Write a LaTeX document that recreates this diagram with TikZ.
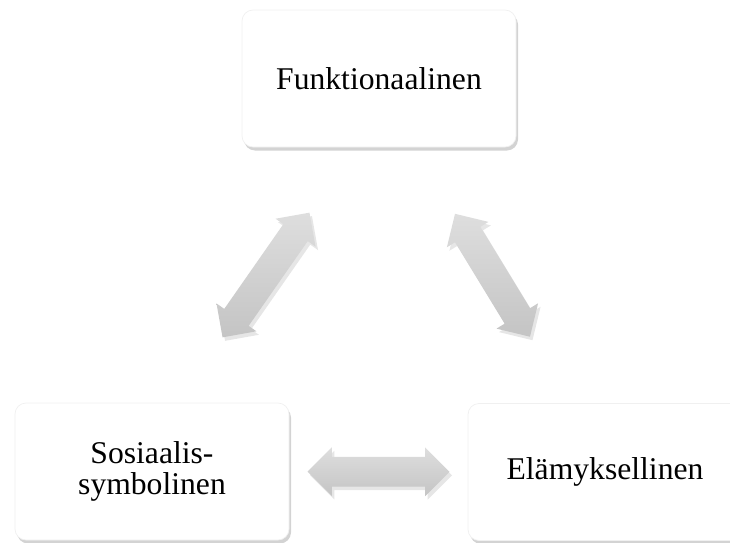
\documentclass[tikz,border=0pt]{standalone}
\usepackage{fontspec}
\setmainfont{Liberation Serif}
\usetikzlibrary{shapes.arrows,shadows}
\definecolor{linklight}{HTML}{DEDEDE}
\definecolor{linkdark}{HTML}{C4C4C4}

\begin{document}
\begin{tikzpicture}[
    box/.style={draw=gray!12, fill=white, rounded corners=0.22cm,
        minimum width=5.48cm, minimum height=2.74cm, align=center,
        font=\fontsize{18}{18}\selectfont,
        drop shadow={shadow xshift=0.04cm, shadow yshift=-0.07cm, opacity=0.35}},
    link/.style={double arrow, sloped, draw=none, inner xsep=0pt, inner ysep=0.29cm,
        minimum width=0.96cm, double arrow head extend=0.19cm,
        top color=linklight, bottom color=linkdark,
        drop shadow={shadow xshift=0.05cm, shadow yshift=-0.07cm, opacity=0.2}}
]
\useasboundingbox (0,0) rectangle (14.6,10.84);
% Boxes
\node[box] (func) at (7.58,9.27) {Funktionaalinen};
\node[box] (sos) at (3.04,1.41) {Sosiaalis-\\symbolinen};
\node[box] (elam) at (12.10,1.40) {Elämyksellinen};
% Arrows between boxes
\path ([xshift=-0.48cm]func.south) -- node[link, minimum height=3.04cm] {} ([xshift=0.5cm]sos.north);
\path ([xshift=0.71cm]func.south) -- node[link, minimum height=2.88cm] {} ([xshift=-0.69cm]elam.north);
\path (sos) -- node[link, minimum height=2.84cm] {} (elam);
\end{tikzpicture}
\end{document}
